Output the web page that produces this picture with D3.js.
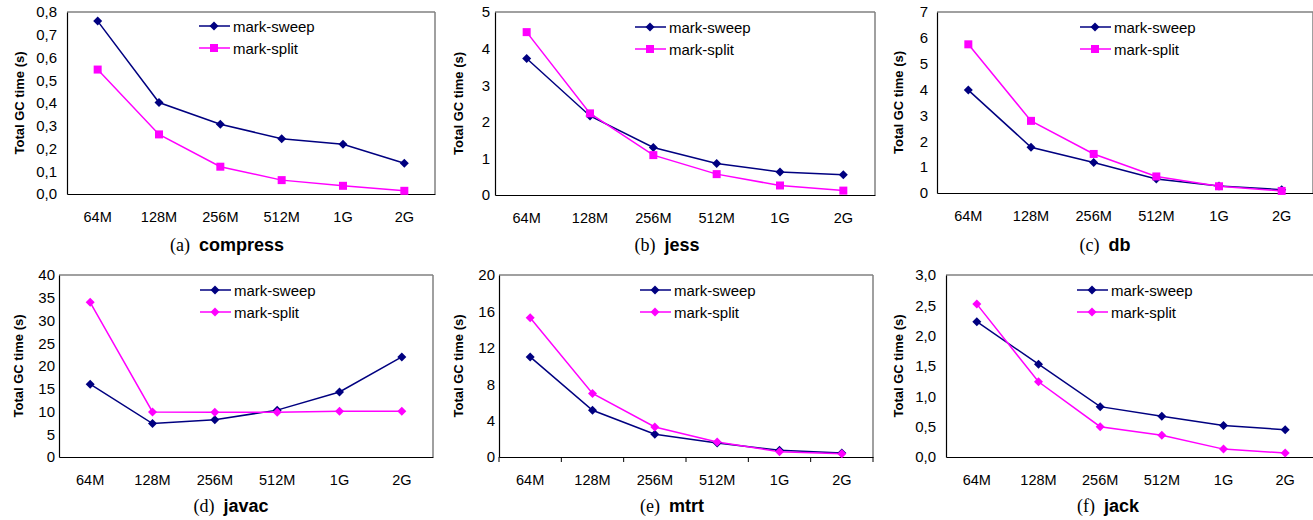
<!DOCTYPE html>
<html><head><meta charset="utf-8">
<script src="https://cdn.jsdelivr.net/npm/d3@7"></script>
<style>
html,body{margin:0;padding:0;background:#fff;}
svg{display:block;}
</style></head>
<body><svg id="c" width="1313" height="520"></svg>
<script>
const categories = ["64M","128M","256M","512M","1G","2G"];
const seriesNames = ["mark-sweep","mark-split"];

const compressSweep = [0.76,0.402,0.307,0.243,0.219,0.135];
const compressSplit = [0.547,0.262,0.120,0.061,0.036,0.014];
const jessSweep = [3.73,2.16,1.30,0.86,0.63,0.55];
const jessSplit = [4.45,2.23,1.09,0.57,0.26,0.12];
const dbSweep = [3.98,1.77,1.18,0.54,0.27,0.13];
const dbSplit = [5.75,2.79,1.51,0.64,0.26,0.08];
const javacSweep = [16.0,7.34,8.2,10.3,14.3,22.0];
const javacSplit = [34.0,9.9,9.85,9.85,10.06,10.06];
const mtrtSweep = [11.0,5.14,2.5,1.54,0.74,0.44];
const mtrtSplit = [15.3,6.98,3.3,1.65,0.59,0.37];
const jackSweep = [2.23,1.53,0.83,0.67,0.52,0.45];
const jackSplit = [2.52,1.24,0.50,0.36,0.13,0.066];

const compressTicks = [0,0.1,0.2,0.3,0.4,0.5,0.6,0.7,0.8];
const jessTicks = [0,1,2,3,4,5];
const dbTicks = [0,1,2,3,4,5,6,7];
const javacTicks = [0,5,10,15,20,25,30,35,40];
const mtrtTicks = [0,4,8,12,16,20];
const jackTicks = [0,0.5,1.0,1.5,2.0,2.5,3.0];

const captionLetters = ["(a)","(b)","(c)","(d)","(e)","(f)"];
const captionNames = ["compress","jess","db","javac","mtrt","jack"];

const commaFmt1 = v => d3.format(".1f")(v).replace(".", ",");
const intFmt = v => String(v);

const panels = [
  {sweep:compressSweep, split:compressSplit, ticks:compressTicks, fmt:commaFmt1, split_marker:"square",
   box:[67,12,435,194], titleX:19, lbl:57, leg:[199,26], cap:[227,251], xticks:false},
  {sweep:jessSweep, split:jessSplit, ticks:jessTicks, fmt:intFmt, split_marker:"square",
   box:[495,12,875,195], titleX:458, lbl:490, leg:[635,27], cap:[667,251], xticks:false},
  {sweep:dbSweep, split:dbSplit, ticks:dbTicks, fmt:intFmt, split_marker:"square",
   box:[937,12,1313,193], titleX:898, lbl:928, leg:[1080,27], cap:[1105,251], xticks:false},
  {sweep:javacSweep, split:javacSplit, ticks:javacTicks, fmt:intFmt, split_marker:"diamond",
   box:[59,275,433,457], titleX:18, lbl:55, leg:[200,290], cap:[231,512], xticks:false},
  {sweep:mtrtSweep, split:mtrtSplit, ticks:mtrtTicks, fmt:intFmt, split_marker:"diamond",
   box:[499,275,873,457], titleX:458, lbl:495, leg:[640,290], cap:[672,512], xticks:true},
  {sweep:jackSweep, split:jackSplit, ticks:jackTicks, fmt:commaFmt1, split_marker:"diamond",
   box:[946,275,1316,457], titleX:898, lbl:936, leg:[1077,290], cap:[1108,512], xticks:false}
];

const NAVY = "#000080", MAG = "#FF00FF";
const svg = d3.select("#c");
const FONT = "'Liberation Sans', Arial, sans-serif";

function marker(g, type, x, y, color){
  if(type === "diamond"){
    const r = 4.5;
    g.append("path").attr("d", `M${x},${y-r}L${x+r},${y}L${x},${y+r}L${x-r},${y}Z`).attr("fill", color);
  } else {
    const s = 8;
    g.append("rect").attr("x", x-s/2).attr("y", y-s/2).attr("width", s).attr("height", s).attr("fill", color);
  }
}

panels.forEach((p, i) => {
  const [x0,y0,x1,y1] = p.box;
  const g = svg.append("g");
  const x = d3.scalePoint().domain(categories).range([x0,x1]).padding(0.5);
  const xb = d3.scaleBand().domain(categories).range([x0,x1]);
  const y = d3.scaleLinear().domain([p.ticks[0], p.ticks[p.ticks.length-1]]).range([y1,y0]);

  // frame: top/right grey, left/bottom black
  g.append("line").attr("x1",x0).attr("x2",x1).attr("y1",y0).attr("y2",y0).attr("stroke","#808080").attr("stroke-width",1.5);
  g.append("line").attr("x1",x1).attr("x2",x1).attr("y1",y0).attr("y2",y1).attr("stroke","#808080").attr("stroke-width",1.5);

  // y axis
  const ya = d3.axisLeft(y).tickValues(p.ticks).tickFormat(p.fmt).tickSize(0).tickPadding(x0 - p.lbl);
  const yg = g.append("g").attr("transform", `translate(${x0},0)`).call(ya);
  yg.select(".domain").attr("stroke","#000").attr("stroke-width",1.2);
  yg.selectAll("text").attr("font-family",FONT).attr("font-size",15).attr("fill","#000");

  // x axis
  const xa = d3.axisBottom(xb).tickSize(0).tickPadding(p.xticks ? 0 : 0);
  const xg = g.append("g").attr("transform", `translate(0,${y1})`).call(xa);
  xg.select(".domain").attr("stroke","#000").attr("stroke-width",1.2);
  xg.selectAll("text").attr("font-family",FONT).attr("font-size",14.5).attr("fill","#000")
    .attr("y", null).attr("dy", null).attr("dominant-baseline", "alphabetic").attr("transform", "translate(0,28)");
  if(p.xticks){
    const edges = categories.map(c => xb(c)).concat([x1]);
    g.selectAll(".xt").data(edges).enter().append("line")
      .attr("x1", d=>d).attr("x2", d=>d).attr("y1", y1).attr("y2", y1+5)
      .attr("stroke","#000").attr("stroke-width",1);
  }

  // y title
  g.append("text").attr("transform", `translate(${p.titleX + 5},${(y0+y1)/2}) rotate(-90)`)
    .attr("text-anchor","middle").attr("font-family",FONT).attr("font-weight","bold").attr("font-size",13)
    .text("Total GC time (s)");

  // lines
  const line = d3.line().x((d,j)=>x(categories[j])).y(d=>y(d));
  g.append("path").datum(p.sweep).attr("d", line).attr("fill","none").attr("stroke",NAVY).attr("stroke-width",1.5);
  g.append("path").datum(p.split).attr("d", line).attr("fill","none").attr("stroke",MAG).attr("stroke-width",1.5);
  p.sweep.forEach((v,j) => marker(g, "diamond", x(categories[j]), y(v), NAVY));
  p.split.forEach((v,j) => marker(g, p.split_marker, x(categories[j]), y(v), MAG));

  // legend
  const [lx, ly] = p.leg;
  [[NAVY,"diamond"],[MAG,p.split_marker]].forEach(([col,mt],k) => {
    const yy = ly + k*22;
    g.append("line").attr("x1",lx).attr("x2",lx+31).attr("y1",yy).attr("y2",yy).attr("stroke",col).attr("stroke-width",1.5);
    marker(g, mt, lx+15, yy, col);
    g.append("text").attr("x", lx+34).attr("y", yy+5.5).attr("font-family",FONT).attr("font-size",15).text(seriesNames[k]);
  });

  // caption
  const cap = g.append("text").attr("x", p.cap[0]).attr("y", p.cap[1]).attr("text-anchor","middle").attr("font-size",18);
  cap.append("tspan").attr("font-family","'Liberation Serif', 'Times New Roman', serif").text(captionLetters[i] + "\u00a0\u00a0");
  cap.append("tspan").attr("font-family",FONT).attr("font-weight","bold").text(captionNames[i]);
});
</script>
</body></html>
